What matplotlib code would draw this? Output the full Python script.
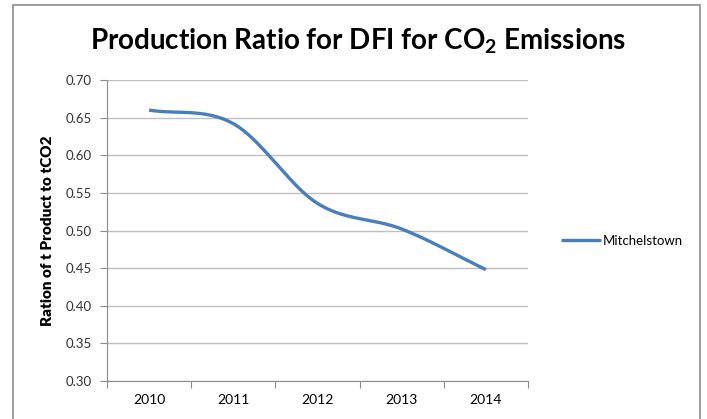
import numpy as np
import matplotlib.pyplot as plt
from matplotlib.patches import Rectangle

years = ["2010", "2011", "2012", "2013", "2014"]
ratio = [0.660, 0.642, 0.536, 0.502, 0.448]
series_name = "Mitchelstown"

plt.rcParams['font.family'] = ['Lato', 'DejaVu Sans']


def catmull_rom(xs, ys, n=40):
    # smooth line through the points, similar to the spreadsheet "smoothed line"
    xs = np.asarray(xs, float)
    ys = np.asarray(ys, float)
    px = np.concatenate([[2 * xs[0] - xs[1]], xs, [2 * xs[-1] - xs[-2]]])
    py = np.concatenate([[2 * ys[0] - ys[1]], ys, [2 * ys[-1] - ys[-2]]])
    out_x, out_y = [], []
    for i in range(1, len(px) - 2):
        t = np.linspace(0, 1, n)
        for p, out in ((px, out_x), (py, out_y)):
            p0, p1, p2, p3 = p[i - 1], p[i], p[i + 1], p[i + 2]
            out.extend(0.5 * (2 * p1 + (-p0 + p2) * t
                              + (2 * p0 - 5 * p1 + 4 * p2 - p3) * t ** 2
                              + (-p0 + 3 * p1 - 3 * p2 + p3) * t ** 3))
    return np.array(out_x), np.array(out_y)


fig = plt.figure(figsize=(7.07, 4.19), dpi=100)
fig.patches.append(Rectangle((13 / 707, -0.1), (700 - 13) / 707, 1.1 - 5 / 419,
                             transform=fig.transFigure, fill=False,
                             edgecolor="#8c8c8c", linewidth=1.2))

ax = fig.add_axes([107 / 707, 1 - 381 / 419, (528 - 107) / 707, (381 - 80) / 419])

x = np.arange(len(years))
sx, sy = catmull_rom(x, ratio)
ax.plot(sx, sy, color="#4a7ebb", linewidth=2.4, solid_capstyle="butt",
        label=series_name)

ax.set_xlim(-0.5, len(years) - 0.5)
ax.set_ylim(0.30, 0.70)
ax.set_yticks(np.arange(0.30, 0.701, 0.05))
ax.set_yticklabels(["%.2f" % v for v in np.arange(0.30, 0.701, 0.05)])
ax.yaxis.grid(True, color="#bfbfbf", linewidth=1.0)
ax.set_axisbelow(True)

ax.set_xticks(np.arange(-0.5, len(years), 1.0))
ax.set_xticklabels([])
ax.set_xticks(x, minor=True)
ax.set_xticklabels(years, minor=True)
ax.tick_params(axis="x", which="minor", length=0, pad=9)
ax.tick_params(axis="x", which="major", length=5, color="#8c8c8c", direction="out")
ax.tick_params(axis="y", length=5, color="#8c8c8c", direction="out", pad=6)
ax.tick_params(labelsize=9.5, labelcolor="#333333")

for side in ("top", "right"):
    ax.spines[side].set_visible(False)
for side in ("left", "bottom"):
    ax.spines[side].set_color("#8c8c8c")

ax.set_ylabel("Ration of t Product to tCO2", fontsize=11, fontweight="heavy",
              labelpad=8)

fig.text(358 / 707, 1 - 41 / 419, "Production Ratio for DFI for CO$_\\mathregular{2}$ Emissions",
         ha="center", va="center", fontsize=20, fontweight="bold")

ax.legend(loc="center left", bbox_to_anchor=(1.05, 0.465), frameon=False,
          fontsize=9.5, handlelength=3.0, handletextpad=0.2)

fig.savefig("out.png", dpi=100)
